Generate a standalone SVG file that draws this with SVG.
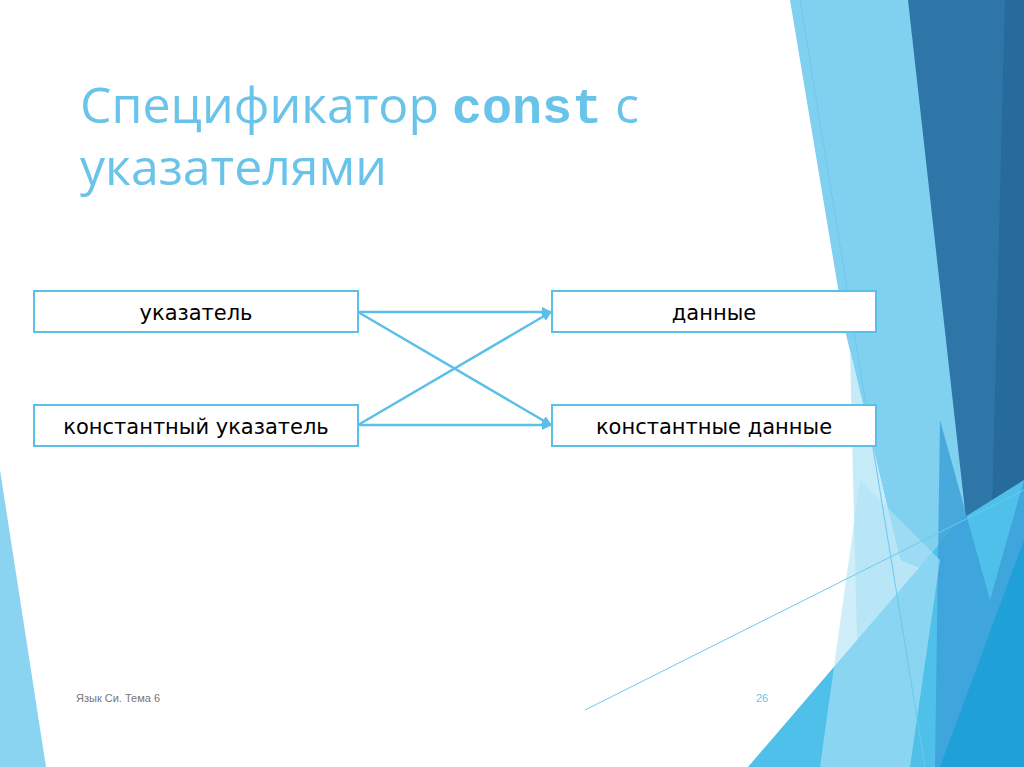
<svg xmlns="http://www.w3.org/2000/svg" width="1024" height="767" viewBox="0 0 1024 767">
<defs>
<marker id="ah" markerWidth="10" markerHeight="10" refX="9" refY="5" orient="auto" markerUnits="userSpaceOnUse"><path d="M0,0 L10,5 L0,10 Z" fill="#5bc0e8"/></marker>
<style>
.box{fill:#fff;stroke:#5bc0e8;stroke-width:2}
.lbl{font-family:"DejaVu Sans",sans-serif;font-size:21px;fill:#000;text-anchor:middle}
.con{stroke:#5bc0e8;stroke-width:2.5;fill:none}
</style>
</defs>
<rect width="1024" height="767" fill="#fff"/>
<g id="background">
<polygon points="0,470 46,767 0,767" fill="#8ad4f2"/>
<polygon points="790,0 910,0 990,600 900,560 845,330" fill="#80d0f0"/>
<polygon points="850,350 900,560 980,600 960,767 860,767" fill="#c5ebf8"/>
<polygon points="908,0 1024,0 1024,600 975,600" fill="#2e75a8"/>
<polygon points="1005,0 1024,0 1024,560 990,590" fill="#276a9c"/>
<polygon points="748,767 960,520 1024,480 1024,767" fill="#4fc0ea"/>
<polygon points="940,420 990,600 1024,480 1024,767 935,767" fill="#3a9fd8" opacity="0.8"/>
<polygon points="1024,540 1024,767 940,767" fill="#1fa0d8"/>
<polygon points="860,480 940,560 910,767 820,767" fill="#b0e2f6" opacity="0.6"/>
<line x1="800" y1="0" x2="925" y2="767" stroke="#6cc8ef" stroke-width="1"/>
<line x1="585" y1="710" x2="1024" y2="490" stroke="#6cc8ef" stroke-width="1"/>
</g>
<g id="title" font-family="'Open Sans','DejaVu Sans',sans-serif" font-size="50" fill="#6ac4ea">
<text x="80" y="123">Спецификатор <tspan font-family="'Liberation Mono','Courier New',monospace" font-weight="bold">const</tspan> с</text>
<text x="80" y="185">указателями</text>
</g>
<g id="connectors">
<line class="con" x1="358" y1="312" x2="551" y2="312" marker-end="url(#ah)"/>
<line class="con" x1="358" y1="312" x2="551" y2="425" marker-end="url(#ah)"/>
<line class="con" x1="358" y1="425" x2="551" y2="312" marker-end="url(#ah)"/>
<line class="con" x1="358" y1="425" x2="551" y2="425" marker-end="url(#ah)"/>
</g>
<g id="n1"><rect class="box" x="34" y="291" width="324" height="41"/><text class="lbl" x="196" y="320">указатель</text></g>
<g id="n2"><rect class="box" x="34" y="405" width="324" height="41"/><text class="lbl" x="196" y="434">константный указатель</text></g>
<g id="n3"><rect class="box" x="552" y="291" width="324" height="41"/><text class="lbl" x="714" y="320">данные</text></g>
<g id="n4"><rect class="box" x="552" y="405" width="324" height="41"/><text class="lbl" x="714" y="434">константные данные</text></g>
<g id="footer" font-family="'Liberation Sans',Arial,sans-serif" font-size="11">
<text x="76" y="702" fill="#777">Язык Си. Тема 6</text>
<text x="756" y="702" fill="#6ac4ea">26</text>
</g>
</svg>
